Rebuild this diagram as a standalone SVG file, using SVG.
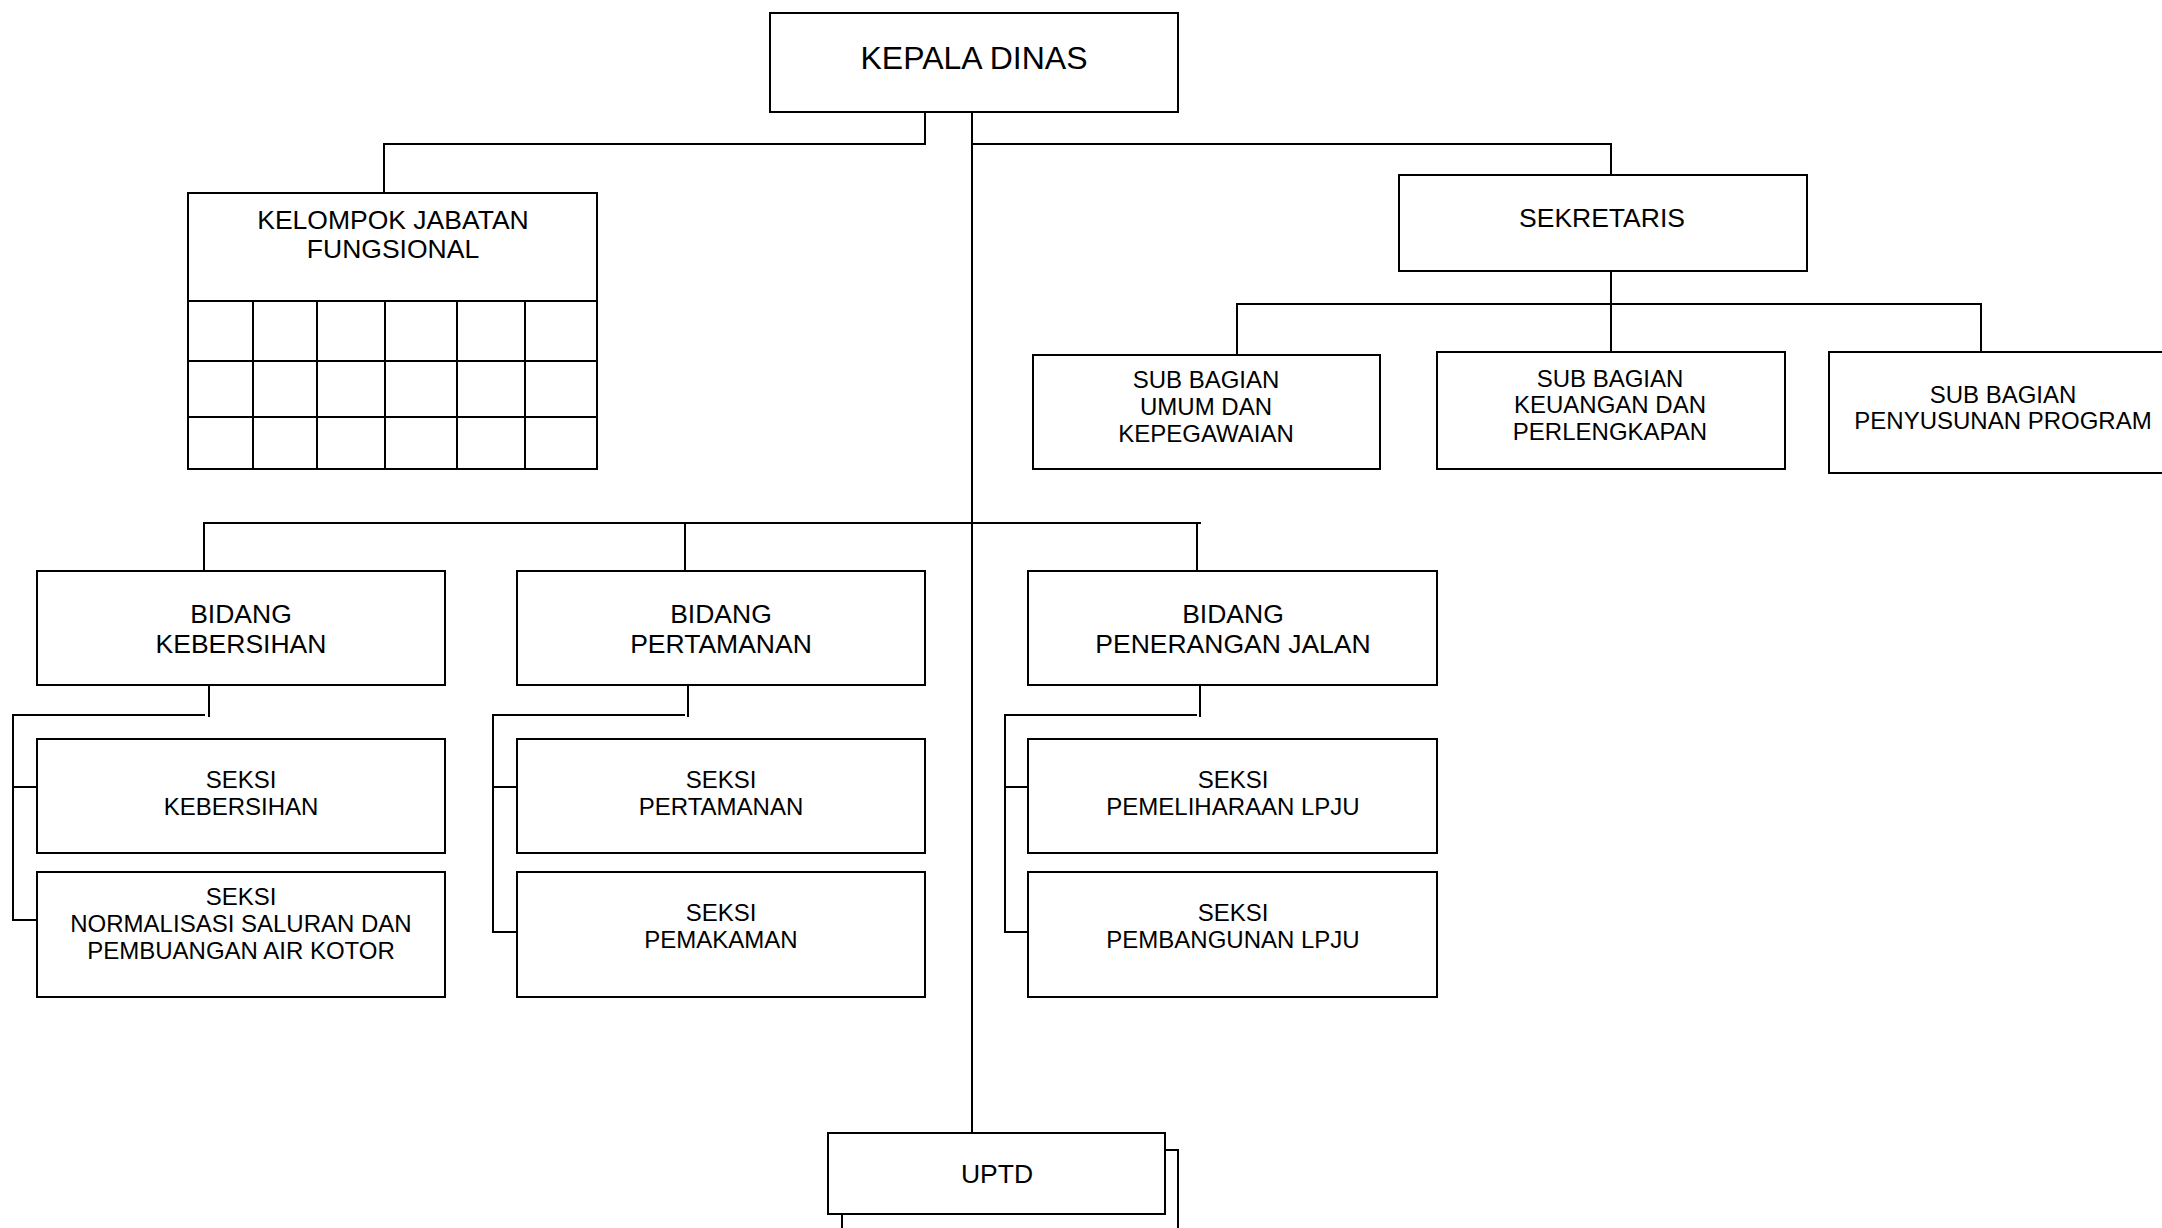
<svg xmlns="http://www.w3.org/2000/svg" width="2162" height="1228" viewBox="0 0 2162 1228">
<style>
.box{fill:#fff;stroke:#000;stroke-width:2}
.ln{fill:none;stroke:#000;stroke-width:2}
text{font-family:"Liberation Sans",Arial,sans-serif;fill:#000;text-anchor:middle}
.t32{font-size:32px}
.t26{font-size:26.5px}
.t24{font-size:24px}
</style>
<rect width="2162" height="1228" fill="#fff"/>
<g id="connectors">
<path class="ln" d="M925 112V144H384V193"/>
<path class="ln" d="M972 112V1133"/>
<path class="ln" d="M972 144H1611V175"/>
<path class="ln" d="M1611 271V352"/>
<path class="ln" d="M1237 355V304H1981V352"/>
<path class="ln" d="M204 571V523H1201"/>
<path class="ln" d="M685 523V571"/>
<path class="ln" d="M1197 523V571"/>
<path class="ln" d="M209 685V717"/>
<path class="ln" d="M205 715H13V920H37M13 787H37"/>
<path class="ln" d="M688 685V717"/>
<path class="ln" d="M685 715H493V932H517M493 787H517"/>
<path class="ln" d="M1200 685V717"/>
<path class="ln" d="M1197 715H1005V932H1028M1005 787H1028"/>
</g>
<g id="kepala-dinas">
<rect class="box" x="770" y="13" width="408" height="99"/>
<text class="t32" x="974" y="69">KEPALA DINAS</text>
</g>
<g id="kelompok-jabatan-fungsional">
<rect class="box" x="188" y="193" width="409" height="276"/>
<text class="t26" x="393" y="229">KELOMPOK JABATAN</text>
<text class="t26" x="393" y="258">FUNGSIONAL</text>
<path class="ln" d="M188 301H597M188 361H597M188 417H597M253 301V469M317 301V469M385 301V469M457 301V469M525 301V469"/>
</g>
<g id="sekretaris">
<rect class="box" x="1399" y="175" width="408" height="96"/>
<text class="t26" x="1602" y="227">SEKRETARIS</text>
</g>
<g id="sub-bagian-umum">
<rect class="box" x="1033" y="355" width="347" height="114"/>
<text class="t24" x="1206" y="388">SUB BAGIAN</text>
<text class="t24" x="1206" y="415">UMUM DAN</text>
<text class="t24" x="1206" y="442">KEPEGAWAIAN</text>
</g>
<g id="sub-bagian-keuangan">
<rect class="box" x="1437" y="352" width="348" height="117"/>
<text class="t24" x="1610" y="387">SUB BAGIAN</text>
<text class="t24" x="1610" y="413">KEUANGAN DAN</text>
<text class="t24" x="1610" y="440">PERLENGKAPAN</text>
</g>
<g id="sub-bagian-penyusunan">
<rect class="box" x="1829" y="352" width="360" height="121"/>
<text class="t24" x="2003" y="403">SUB BAGIAN</text>
<text class="t24" x="2003" y="429">PENYUSUNAN PROGRAM</text>
</g>
<g id="bidang-kebersihan">
<rect class="box" x="37" y="571" width="408" height="114"/>
<text class="t26" x="241" y="623">BIDANG</text>
<text class="t26" x="241" y="653">KEBERSIHAN</text>
</g>
<g id="bidang-pertamanan">
<rect class="box" x="517" y="571" width="408" height="114"/>
<text class="t26" x="721" y="623">BIDANG</text>
<text class="t26" x="721" y="653">PERTAMANAN</text>
</g>
<g id="bidang-penerangan-jalan">
<rect class="box" x="1028" y="571" width="409" height="114"/>
<text class="t26" x="1233" y="623">BIDANG</text>
<text class="t26" x="1233" y="653">PENERANGAN JALAN</text>
</g>
<g id="seksi-kebersihan">
<rect class="box" x="37" y="739" width="408" height="114"/>
<text class="t24" x="241" y="788">SEKSI</text>
<text class="t24" x="241" y="815">KEBERSIHAN</text>
</g>
<g id="seksi-normalisasi">
<rect class="box" x="37" y="872" width="408" height="125"/>
<text class="t24" x="241" y="905">SEKSI</text>
<text class="t24" x="241" y="932">NORMALISASI SALURAN DAN</text>
<text class="t24" x="241" y="959">PEMBUANGAN AIR KOTOR</text>
</g>
<g id="seksi-pertamanan">
<rect class="box" x="517" y="739" width="408" height="114"/>
<text class="t24" x="721" y="788">SEKSI</text>
<text class="t24" x="721" y="815">PERTAMANAN</text>
</g>
<g id="seksi-pemakaman">
<rect class="box" x="517" y="872" width="408" height="125"/>
<text class="t24" x="721" y="921">SEKSI</text>
<text class="t24" x="721" y="948">PEMAKAMAN</text>
</g>
<g id="seksi-pemeliharaan-lpju">
<rect class="box" x="1028" y="739" width="409" height="114"/>
<text class="t24" x="1233" y="788">SEKSI</text>
<text class="t24" x="1233" y="815">PEMELIHARAAN LPJU</text>
</g>
<g id="seksi-pembangunan-lpju">
<rect class="box" x="1028" y="872" width="409" height="125"/>
<text class="t24" x="1233" y="921">SEKSI</text>
<text class="t24" x="1233" y="948">PEMBANGUNAN LPJU</text>
</g>
<g id="uptd">
<rect class="box" x="842" y="1150" width="336" height="100"/>
<rect class="box" x="828" y="1133" width="337" height="81"/>
<text class="t26" x="997" y="1183">UPTD</text>
</g>
</svg>
